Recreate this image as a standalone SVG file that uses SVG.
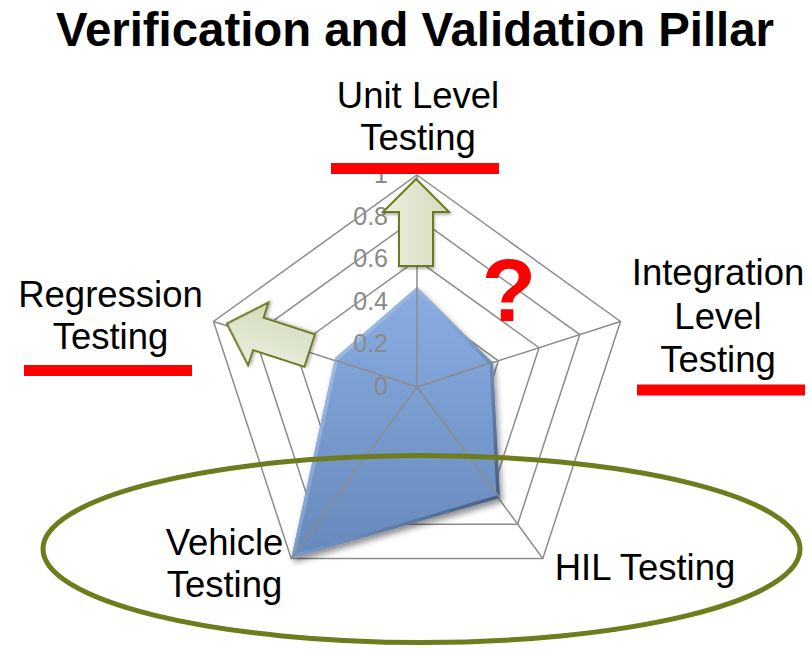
<svg xmlns="http://www.w3.org/2000/svg" width="812" height="649" viewBox="0 0 812 649">
  <style>
    .lbl { font-family: "Liberation Sans", Arial, sans-serif; font-size: 36.5px; fill: #000; text-anchor: middle; }
    .tick { font-family: "Liberation Sans", Arial, sans-serif; font-size: 25px; fill: #8a8a8a; text-anchor: end; }
    .grid { fill: none; stroke: #8c8c8c; stroke-width: 1.5; stroke-linejoin: miter; }
    .bar { fill: #ff0000; }
    .blk { fill: url(#arrowFill); stroke: #6b7b1f; stroke-width: 2; stroke-linejoin: miter; filter: url(#softShadow); }
  </style>
  <defs>
    <linearGradient id="seriesFill" x1="0" y1="0" x2="0" y2="1">
      <stop offset="0" stop-color="#8aaee2"/>
      <stop offset="1" stop-color="#6688bb"/>
    </linearGradient>
    <linearGradient id="bevel" x1="0" y1="0" x2="1" y2="1">
      <stop offset="0" stop-color="#c4d8f5"/>
      <stop offset="0.45" stop-color="#86a6d4"/>
      <stop offset="1" stop-color="#2a3f60"/>
    </linearGradient>
    <linearGradient id="arrowFill" x1="0" y1="0" x2="1" y2="0">
      <stop offset="0" stop-color="#eaefdf"/>
      <stop offset="1" stop-color="#d3dbbd"/>
    </linearGradient>
    <filter id="dropShadow" x="-20%" y="-20%" width="140%" height="140%">
      <feGaussianBlur in="SourceAlpha" stdDeviation="3"/>
      <feOffset dx="2" dy="4" result="b"/>
      <feComponentTransfer><feFuncA type="linear" slope="0.45"/></feComponentTransfer>
      <feMerge><feMergeNode/><feMergeNode in="SourceGraphic"/></feMerge>
    </filter>
    <filter id="softShadow" x="-20%" y="-20%" width="140%" height="140%">
      <feGaussianBlur in="SourceAlpha" stdDeviation="1.5"/>
      <feOffset dx="1" dy="2"/>
      <feComponentTransfer><feFuncA type="linear" slope="0.3"/></feComponentTransfer>
      <feMerge><feMergeNode/><feMergeNode in="SourceGraphic"/></feMerge>
    </filter>
    <clipPath id="seriesClip">
      <polygon points="417,287 493,363 500,498 291.2,558.5 335,358"/>
    </clipPath>
  </defs>

  <rect x="0" y="0" width="812" height="649" fill="#ffffff"/>

  <g id="title">
    <text x="415" y="46" textLength="718" lengthAdjust="spacingAndGlyphs" style="font-family:'Liberation Sans', Arial, sans-serif; font-size:48px; font-weight:bold; fill:#000; text-anchor:middle;">Verification and Validation Pillar</text>
  </g>

  <g id="radar-grid">
    <polygon class="grid" points="417,344.6 457.7,373.9 442.2,421.3 391.8,421.3 376.3,373.9"/>
    <polygon class="grid" points="417,302.2 498.4,360.8 467.3,455.6 366.7,455.6 335.6,360.8"/>
    <polygon class="grid" points="417,259.8 539.1,347.7 492.5,489.9 341.5,489.9 294.9,347.7"/>
    <polygon class="grid" points="417,217.4 579.8,334.6 517.6,524.2 316.4,524.2 254.2,334.6"/>
    <polygon class="grid" points="417,175 620.5,321.5 542.8,558.5 291.2,558.5 213.5,321.5"/>
    <path class="grid" d="M417,387 L417,175 M417,387 L620.5,321.5 M417,387 L542.8,558.5 M417,387 L291.2,558.5 M417,387 L213.5,321.5"/>
  </g>

  <g id="data-series" filter="url(#dropShadow)">
    <polygon points="417,287 493,363 500,498 291.2,558.5 335,358" fill="url(#seriesFill)"/>
    <polygon points="417,287 493,363 500,498 291.2,558.5 335,358" fill="none" stroke="url(#bevel)" stroke-width="7" stroke-linejoin="round" clip-path="url(#seriesClip)" opacity="0.85"/>
  </g>

  <g id="spokes-over">
    <path d="M417,387 L417,287 M417,387 L493,362 M417,387 L500,498 M417,387 L291.2,558.5 M417,387 L335,360.3" fill="none" stroke="#8c8c8c" stroke-width="1.5"/>
  </g>

  <g id="axis-ticks">
    <text class="tick" x="388" y="394.5">0</text>
    <text class="tick" x="388" y="352">0.2</text>
    <text class="tick" x="388" y="309.7">0.4</text>
    <text class="tick" x="388" y="267.3">0.6</text>
    <text class="tick" x="388" y="224.9">0.8</text>
    <text class="tick" x="388" y="182.5">1</text>
  </g>

  <g id="arrows">
    <polygon id="arrow-up" class="blk" points="416,179 449,212 433,212 433,266 399,266 399,212 383,212"/>
    <polygon id="arrow-left" class="blk" points="416,179 449,212 433,212 433,266 399,266 399,212 383,212" transform="translate(8,0) rotate(-72 417 387)"/>
  </g>

  <g id="question">
    <text x="509" y="321" style="font-family:'Liberation Sans', Arial, sans-serif; font-size:89px; font-weight:bold; fill:#ff0000; text-anchor:middle;">?</text>
  </g>

  <g id="node-unit">
    <text class="lbl" x="418" y="108">Unit Level</text>
    <text class="lbl" x="418" y="150">Testing</text>
    <rect class="bar" x="331" y="163" width="168" height="11"/>
  </g>

  <g id="node-regression">
    <text class="lbl" x="110.5" y="307">Regression</text>
    <text class="lbl" x="110.5" y="349">Testing</text>
    <rect class="bar" x="24" y="365" width="168" height="11"/>
  </g>

  <g id="node-integration">
    <text class="lbl" x="718" y="285">Integration</text>
    <text class="lbl" x="718" y="329">Level</text>
    <text class="lbl" x="718" y="372">Testing</text>
    <rect class="bar" x="637" y="384.5" width="168" height="11"/>
  </g>

  <g id="node-vehicle">
    <text class="lbl" x="224.5" y="555">Vehicle</text>
    <text class="lbl" x="224.5" y="597">Testing</text>
  </g>

  <g id="node-hil">
    <text class="lbl" x="645" y="580">HIL Testing</text>
  </g>

  <g id="highlight-ellipse">
    <ellipse cx="421.5" cy="549" rx="378.5" ry="93.5" fill="none" stroke="#6e7c1d" stroke-width="5"/>
  </g>
</svg>
